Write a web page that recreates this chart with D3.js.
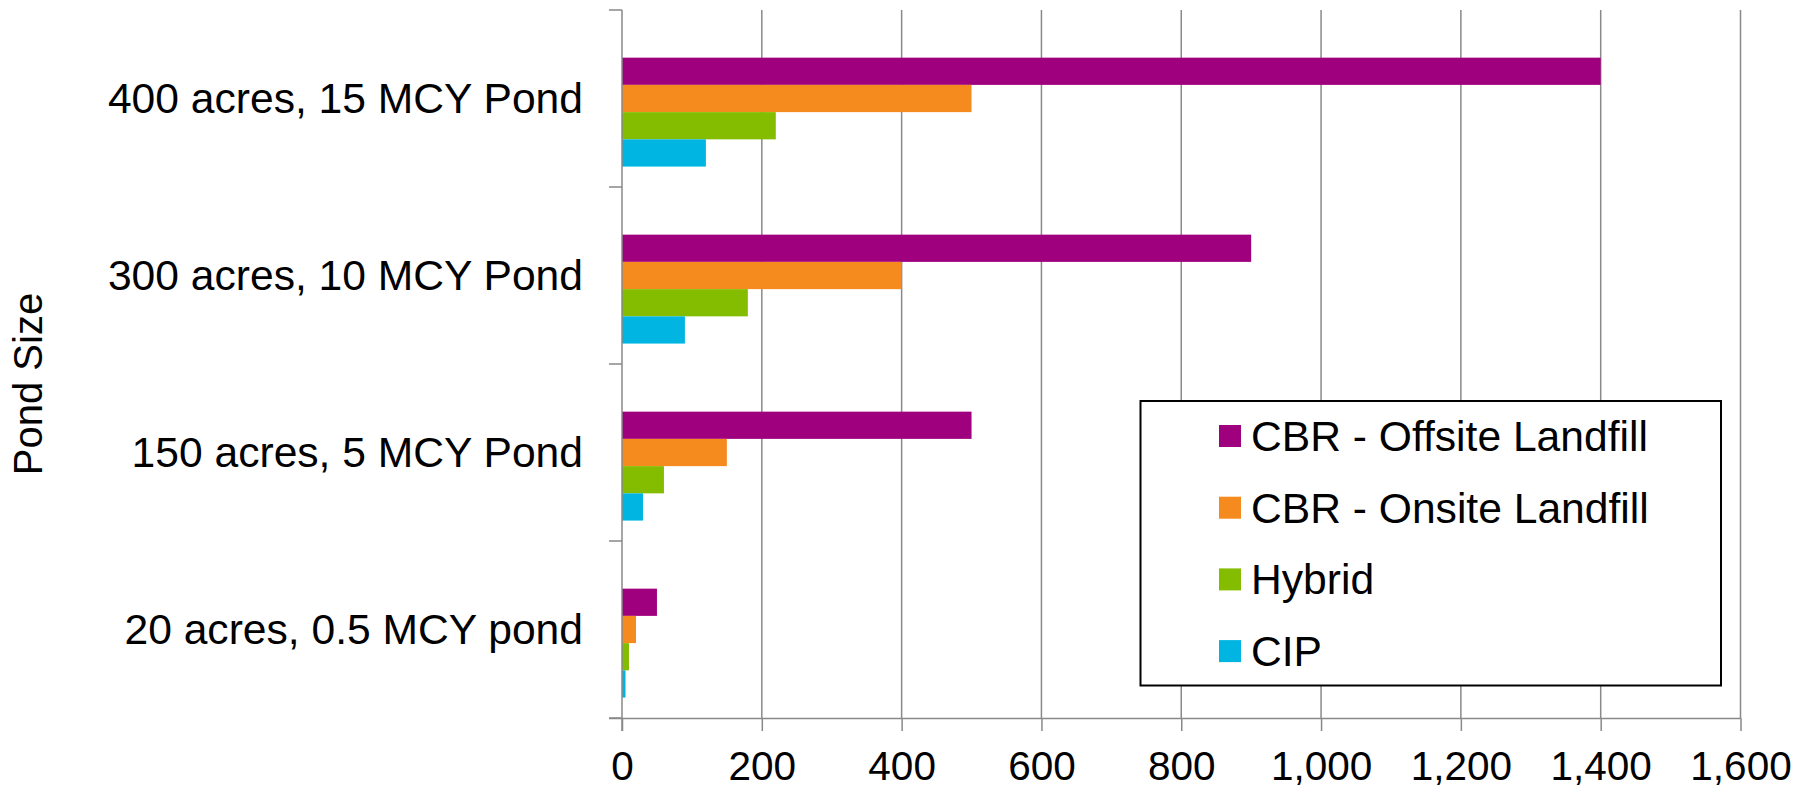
<!DOCTYPE html>
<html>
<head>
<meta charset="utf-8">
<script src="https://cdn.jsdelivr.net/npm/d3@7"></script>
<style>
  html, body { margin: 0; padding: 0; background: #fff; }
  svg { display: block; font-family: "Liberation Sans", Arial, sans-serif; }
</style>
</head>
<body>
<svg id="chart" width="1800" height="789"></svg>
<script>
// Pond sizes, listed top to bottom
const categories = [
  "400 acres, 15 MCY Pond",
  "300 acres, 10 MCY Pond",
  "150 acres, 5 MCY Pond",
  "20 acres, 0.5 MCY pond"
];

// Series, listed top to bottom within each group
const seriesNames = [
  "CBR - Offsite Landfill",
  "CBR - Onsite Landfill",
  "Hybrid",
  "CIP"
];
const seriesColors = ["#9E007E", "#F58B1F", "#84BD00", "#00B5E2"];

// Values per series, in the same order as categories
const offsiteLandfill = [1400, 900, 500, 50];
const onsiteLandfill  = [500, 400, 150, 20];
const hybrid          = [220, 180, 60, 10];
const cip             = [120, 90, 30, 5];
const seriesValues = [offsiteLandfill, onsiteLandfill, hybrid, cip];

const xTicks = [0, 200, 400, 600, 800, 1000, 1200, 1400, 1600];

const svg = d3.select("#chart");
const plotLeft = 622, plotRight = 1740.5, plotTop = 10, plotBottom = 718;
const gridColor = "#898989";

const x = d3.scaleLinear().domain([0, 1600]).range([plotLeft, plotRight]);
const y0 = d3.scaleBand().domain(categories).range([plotTop, plotBottom]).padding(0);
const y1 = d3.scaleBand().domain(seriesNames)
  .range([0, y0.bandwidth()])
  .paddingInner(0).paddingOuter(1.25).align(0.7);

// Vertical gridlines
svg.append("g")
  .selectAll("line")
  .data(xTicks.slice(1))
  .join("line")
  .attr("x1", d => x(d)).attr("x2", d => x(d))
  .attr("y1", plotTop).attr("y2", plotBottom)
  .attr("stroke", gridColor).attr("stroke-width", 1.5);

// Bars
const rows = [];
categories.forEach((c, i) => {
  seriesNames.forEach((s, j) => {
    rows.push({ cat: c, series: s, value: seriesValues[j][i], color: seriesColors[j] });
  });
});
svg.append("g")
  .selectAll("rect")
  .data(rows)
  .join("rect")
  .attr("x", x(0))
  .attr("y", d => y0(d.cat) + y1(d.series))
  .attr("width", d => x(d.value) - x(0))
  .attr("height", y1.bandwidth())
  .attr("fill", d => d.color);

// X axis
const xAxis = svg.append("g")
  .attr("transform", `translate(0,${plotBottom})`)
  .call(d3.axisBottom(x).tickValues(xTicks).tickFormat(d3.format(",")).tickSize(13).tickPadding(20));
xAxis.select(".domain").attr("stroke", gridColor).attr("stroke-width", 1.5)
  .attr("d", `M${plotLeft - 13},0.5H${plotRight}`);
xAxis.selectAll(".tick line").attr("stroke", gridColor).attr("stroke-width", 1.5);
xAxis.selectAll(".tick text").attr("font-size", 40.5).attr("fill", "#000")
  .attr("font-family", "Liberation Sans, Arial, sans-serif");

// Y axis: line, boundary ticks, category labels
const yg = svg.append("g");
yg.append("line")
  .attr("x1", plotLeft).attr("x2", plotLeft).attr("y1", plotTop).attr("y2", plotBottom + 13)
  .attr("stroke", gridColor).attr("stroke-width", 1.5);
const boundaries = categories.map(c => y0(c)).concat([y0(categories[categories.length - 1]) + y0.bandwidth()]);
yg.selectAll("line.b")
  .data(boundaries)
  .join("line")
  .attr("class", "b")
  .attr("x1", plotLeft - 13).attr("x2", plotLeft)
  .attr("y1", d => d).attr("y2", d => d)
  .attr("stroke", gridColor).attr("stroke-width", 1.5);
yg.selectAll("text")
  .data(categories)
  .join("text")
  .attr("x", 583)
  .attr("y", d => y0(d) + y0.bandwidth() / 2)
  .attr("dy", "0.35em")
  .attr("text-anchor", "end")
  .attr("font-size", 42.6)
  .attr("fill", "#000")
  .text(d => d);

// Axis title
svg.append("text")
  .attr("transform", "translate(42,384) rotate(-90)")
  .attr("text-anchor", "middle")
  .attr("font-size", 40)
  .attr("fill", "#000")
  .text("Pond Size");

// Legend
const lg = svg.append("g");
lg.append("rect")
  .attr("x", 1140.5).attr("y", 401).attr("width", 580.5).attr("height", 284.5)
  .attr("fill", "#fff").attr("stroke", "#000").attr("stroke-width", 2);
const items = lg.selectAll("g.item")
  .data(seriesNames)
  .join("g")
  .attr("class", "item")
  .attr("transform", (d, i) => `translate(1219,${436 + i * 71.7})`);
items.append("rect")
  .attr("x", 0).attr("y", -11).attr("width", 22).attr("height", 22)
  .attr("fill", (d, i) => seriesColors[i]);
items.append("text")
  .attr("x", 32).attr("y", 0).attr("dy", "0.35em")
  .attr("font-size", 42.6).attr("fill", "#000")
  .text(d => d);
</script>
</body>
</html>
